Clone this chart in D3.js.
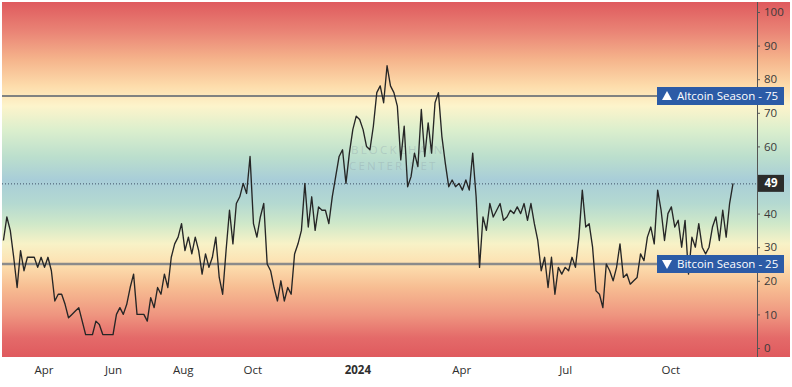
<!DOCTYPE html>
<html>
<head>
<meta charset="utf-8">
<script src="https://cdn.jsdelivr.net/npm/d3@7"></script>
<style>
  body { margin: 0; background: #fff; }
  svg { display: block; font-family: "Open Sans", "DejaVu Sans", sans-serif; }
</style>
</head>
<body>
<div id="chart"></div>
<script>
// Altcoin season index, one reading every 3 days from 25 Feb 2023
const startDate = new Date(2023, 1, 25);
const stepDays = 3;
const indexValues = [
  32, 39, 35, 27, 18, 29, 23, 27, 27, 27,
  24, 27, 24, 27, 23, 14, 16, 16, 13, 9,
  10, 11, 12, 8, 4, 4, 4, 8, 7, 4,
  4, 4, 4, 10, 12, 10, 13, 18, 22, 10,
  10, 10, 8, 15, 12, 18, 16, 22, 18, 27,
  31, 33, 37, 29, 33, 28, 33, 29, 22, 28,
  24, 27, 33, 21, 16, 29, 41, 31, 43, 45,
  49, 46, 57, 37, 33, 39, 43, 25, 23, 18,
  14, 20, 14, 18, 16, 28, 31, 35, 49, 36,
  45, 35, 42, 41, 41, 37, 45, 51, 57, 59,
  49, 58, 65, 69, 68, 65, 60, 59, 66, 76,
  78, 73, 84, 78, 76, 72, 56, 66, 48, 51,
  58, 54, 71, 57, 67, 58, 73, 76, 63, 55,
  48, 50, 48, 49, 47, 50, 47, 58, 45, 24,
  39, 35, 43, 39, 41, 43, 38, 39, 41, 40,
  42, 40, 43, 38, 43, 37, 32, 23, 27, 18,
  27, 16, 24, 22, 24, 23, 27, 24, 33, 47,
  36, 37, 30, 17, 16, 12, 25, 23, 20, 24,
  31, 21, 22, 19, 20, 21, 28, 26, 33, 36,
  31, 47, 41, 32, 40, 42, 36, 38, 30, 38,
  22, 33, 30, 37, 30, 28, 30, 36, 39, 32,
  41, 33, 43, 49
];

// 50 sits under the last-value tag, so it is not drawn
const yTicks = [0, 10, 20, 30, 40, 60, 70, 80, 90, 100];
const xTickDates = ["2023-04-01", "2023-06-01", "2023-08-01", "2023-10-01",
                    "2024-01-01", "2024-04-01", "2024-07-01", "2024-10-01"];
const xTickLabels = ["Apr", "Jun", "Aug", "Oct", "2024", "Apr", "Jul", "Oct"];

const altcoinLevel = 75;
const bitcoinLevel = 25;
const lastValue = indexValues[indexValues.length - 1];

// background colour bands, by index value
const bandStops = [
  { v: 103, c: "#df5a5e" }, { v: 94, c: "#ea8576" }, { v: 86, c: "#f5b38b" },
  { v: 78, c: "#fddcab" }, { v: 72, c: "#fdf4cb" }, { v: 65, c: "#dcefcd" },
  { v: 57, c: "#bcdfcd" }, { v: 50, c: "#a8cdd8" }, { v: 43, c: "#b4d9d1" },
  { v: 37, c: "#cfe8c9" }, { v: 31, c: "#f8f2c7" }, { v: 25, c: "#fde0b0" },
  { v: 18, c: "#f7bd92" }, { v: 10, c: "#ef9680" }, { v: 3, c: "#e46a69" },
  { v: -3, c: "#df5a5e" }
];

const W = 792, H = 387;
const plotRight = 757;

const data = indexValues.map((v, i) => ({
  date: d3.timeDay.offset(startDate, i * stepDays),
  value: v
}));

const svg = d3.select("#chart").append("svg")
  .attr("width", W).attr("height", H);

const x = d3.scaleTime()
  .domain([new Date(2023, 1, 22), new Date(2024, 11, 16)])
  .range([0, plotRight]);

const y = d3.scaleLinear()
  .domain([0, 100])
  .range([348, 12]);

// gradient
const bgTop = 2, bgBottom = 357;
const defs = svg.append("defs");
const grad = defs.append("linearGradient")
  .attr("id", "bg-grad")
  .attr("gradientUnits", "userSpaceOnUse")
  .attr("x1", 0).attr("x2", 0)
  .attr("y1", bgTop).attr("y2", bgBottom);
grad.selectAll("stop")
  .data(bandStops)
  .enter().append("stop")
  .attr("offset", d => Math.max(0, Math.min(1, (y(d.v) - bgTop) / (bgBottom - bgTop))))
  .attr("stop-color", d => d.c);

svg.append("rect")
  .attr("x", 2).attr("y", bgTop)
  .attr("width", 788).attr("height", bgBottom - bgTop)
  .attr("fill", "url(#bg-grad)");

// watermark
const wm = svg.append("g")
  .attr("fill", "#8a9aa6")
  .attr("fill-opacity", 0.32)
  .attr("font-size", 11.5)
  .attr("letter-spacing", 2.2);
wm.append("text").attr("x", 351).attr("y", 154).text("BLOCKCHAIN");
wm.append("text").attr("x", 349).attr("y", 170).text("CENTER.NET");

// level lines
svg.append("line")
  .attr("x1", 2).attr("x2", plotRight)
  .attr("y1", y(altcoinLevel)).attr("y2", y(altcoinLevel))
  .attr("stroke", "#56606e").attr("stroke-width", 1.6);

svg.append("line")
  .attr("x1", 2).attr("x2", plotRight)
  .attr("y1", y(bitcoinLevel)).attr("y2", y(bitcoinLevel))
  .attr("stroke", "#8b8b8b").attr("stroke-width", 2.6);

svg.append("line")
  .attr("x1", 2).attr("x2", plotRight)
  .attr("y1", y(lastValue) + 0.5).attr("y2", y(lastValue) + 0.5)
  .attr("stroke", "#3f5068").attr("stroke-width", 1)
  .attr("stroke-dasharray", "1,2");

// index line
const line = d3.line()
  .x(d => x(d.date))
  .y(d => y(d.value));

svg.append("path")
  .datum(data)
  .attr("fill", "none")
  .attr("stroke", "#262626")
  .attr("stroke-width", 1.35)
  .attr("stroke-linejoin", "round")
  .attr("d", line);

// right axis
const yAxis = svg.append("g")
  .attr("transform", `translate(${plotRight},0)`)
  .call(d3.axisRight(y).tickValues(yTicks).tickSize(3).tickPadding(4));
yAxis.select(".domain").remove();
yAxis.selectAll("line").attr("stroke", "#555");
yAxis.selectAll("text")
  .attr("fill", "#3a3a3a")
  .attr("font-size", 11.5)
  .attr("font-family", "'Open Sans', sans-serif");
svg.append("line")
  .attr("x1", plotRight + 0.5).attr("x2", plotRight + 0.5)
  .attr("y1", bgTop).attr("y2", bgBottom)
  .attr("stroke", "#555").attr("stroke-width", 1);

// bottom labels
const xAxis = svg.append("g")
  .attr("transform", `translate(0,${bgBottom})`)
  .call(d3.axisBottom(x)
    .tickValues(xTickDates.map(d => d3.timeParse("%Y-%m-%d")(d)))
    .tickSize(0).tickPadding(9)
    .tickFormat((d, i) => xTickLabels[i]));
xAxis.select(".domain").remove();
xAxis.selectAll("text")
  .attr("fill", "#2e2e2e")
  .attr("font-size", 11.5)
  .attr("font-family", "'Open Sans', sans-serif")
  .attr("font-weight", (d, i) => xTickLabels[i] === "2024" ? "bold" : "normal");

// level labels
function levelTag(value, label, up) {
  const cy = y(value);
  const g = svg.append("g").attr("transform", `translate(657,${cy - 9})`);
  g.append("rect").attr("width", 127).attr("height", 18).attr("fill", "#2c5ba6");
  const tx = 10, ty = 9;
  g.append("path")
    .attr("d", up
      ? `M${tx - 5},${ty + 4} L${tx + 5},${ty + 4} L${tx},${ty - 5} Z`
      : `M${tx - 5},${ty - 4} L${tx + 5},${ty - 4} L${tx},${ty + 5} Z`)
    .attr("fill", "#fff");
  g.append("text")
    .attr("x", 20).attr("y", 13)
    .attr("fill", "#fff")
    .attr("font-size", 11.5)
    .text(label + " - " + value);
}
levelTag(altcoinLevel, "Altcoin Season", true);
levelTag(bitcoinLevel, "Bitcoin Season", false);

// last value tag
const lv = svg.append("g").attr("transform", `translate(758,${y(lastValue) - 8.5})`);
lv.append("rect").attr("width", 26).attr("height", 17).attr("fill", "#2b2b2b");
lv.append("text")
  .attr("x", 13).attr("y", 12.5)
  .attr("text-anchor", "middle")
  .attr("fill", "#fff")
  .attr("font-size", 11.5)
  .attr("font-weight", "bold")
  .text(lastValue);
</script>
</body>
</html>
